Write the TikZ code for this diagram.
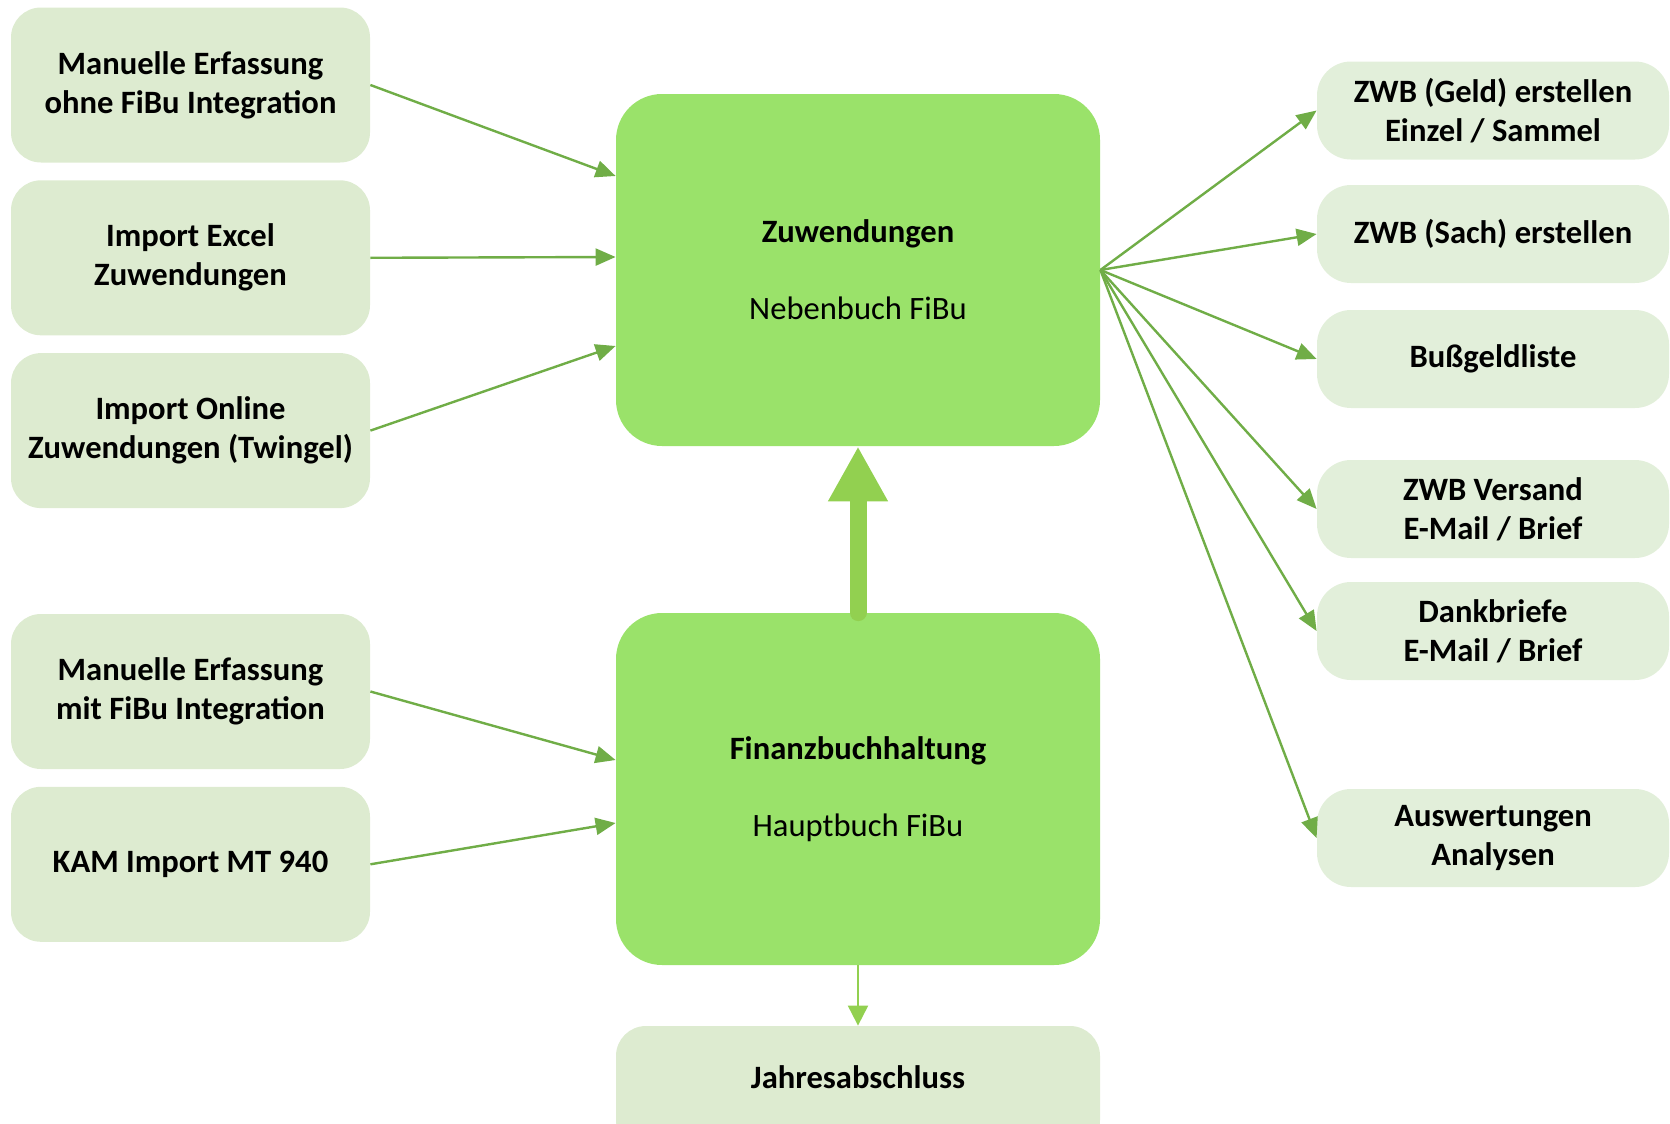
\documentclass[tikz,border=0pt]{standalone}
\usepackage{fontspec}
\setmainfont{Carlito}
\usetikzlibrary{positioning,arrows.meta}
\definecolor{corefill}{RGB}{154,226,106}
\definecolor{boxfill}{RGB}{221,235,208}
\definecolor{outfill}{RGB}{226,239,218}
\definecolor{linkgreen}{RGB}{112,173,71}
\definecolor{flowgreen}{RGB}{146,208,80}

\begin{document}
\begin{tikzpicture}[x=0.5pt, y=-0.5pt,
    src/.style={rectangle, rounded corners=15pt, fill=boxfill, minimum width=179.5pt, minimum height=77.5pt, align=center, font=\fontsize{16.3}{19.5}\selectfont\bfseries},
    core/.style={rectangle, rounded corners=23pt, fill=corefill, minimum width=242pt, minimum height=176pt, align=center, font=\fontsize{16.3}{19.5}\selectfont},
    result/.style={rectangle, rounded corners=17pt, fill=outfill, minimum width=176pt, minimum height=49pt, align=center, font=\fontsize{16.3}{19.5}\selectfont\bfseries},
    link/.style={draw=linkgreen, line width=1.2pt, -{Triangle[length=10pt,width=8.5pt]}}]
    \useasboundingbox (0,0) rectangle (1670,1124);

    % Nebenbuch and Hauptbuch
    \node (zuw) [core] at (858,270) {\textbf{Zuwendungen}\\[19pt]Nebenbuch FiBu};
    \node (fin) [core] at (858,789) {\textbf{Finanzbuchhaltung}\\[19pt]Hauptbuch FiBu};
    \node (jahr) [src, minimum width=242pt, minimum height=62pt] at (858,1088) {\raisebox{11pt}{Jahresabschluss}};
    \draw [draw=flowgreen, line width=8.5pt, line cap=round, -{Triangle[length=27.5pt,width=28pt]}] (fin.north) -- (zuw.south);
    \draw [draw=flowgreen, line width=1pt, -{Triangle[length=10pt,width=10pt]}] (fin.south) -- (jahr.north);

    % Erfassung ohne FiBu
    \node (manohne) [src] at (190.5,85) {Manuelle Erfassung\\ohne FiBu Integration};
    \node (excel) [src, below=8.5pt of manohne] {Import Excel\\Zuwendungen};
    \node (online) [src, below=8.5pt of excel] {Import Online\\Zuwendungen (Twingel)};
    \draw [link] (manohne.east) -- ([yshift=47pt]zuw.west);
    \draw [link] (excel.east) -- ([yshift=6.5pt]zuw.west);
    \draw [link] (online.east) -- ([yshift=-38pt]zuw.west);

    % Erfassung mit FiBu
    \node (manmit) [src] at (190.5,691.5) {Manuelle Erfassung\\mit FiBu Integration};
    \node (kam) [src, below=8.5pt of manmit] {KAM Import MT 940};
    \draw [link] (manmit.east) -- ([yshift=14.5pt]fin.west);
    \draw [link] (kam.east) -- ([yshift=-17pt]fin.west);

    % Ausgaben
    \node (zwbgeld) [result] at (1493,110.5) {ZWB (Geld) erstellen\\Einzel / Sammel};
    \node (zwbsach) [result] at (1493,234) {ZWB (Sach) erstellen};
    \node (bussgeld) [result] at (1493,359) {Bußgeldliste};
    \node (versand) [result] at (1493,509) {ZWB Versand\\E-Mail / Brief};
    \node (dank) [result] at (1493,631) {Dankbriefe\\E-Mail / Brief};
    \node (auswert) [result] at (1493,838) {Auswertungen\\Analysen};
    \draw [link] (zuw.east) -- (zwbgeld.west);
    \draw [link] (zuw.east) -- (zwbsach.west);
    \draw [link] (zuw.east) -- (bussgeld.west);
    \draw [link] (zuw.east) -- (versand.west);
    \draw [link] (zuw.east) -- (dank.west);
    \draw [link] (zuw.east) -- (auswert.west);
\end{tikzpicture}
\end{document}
